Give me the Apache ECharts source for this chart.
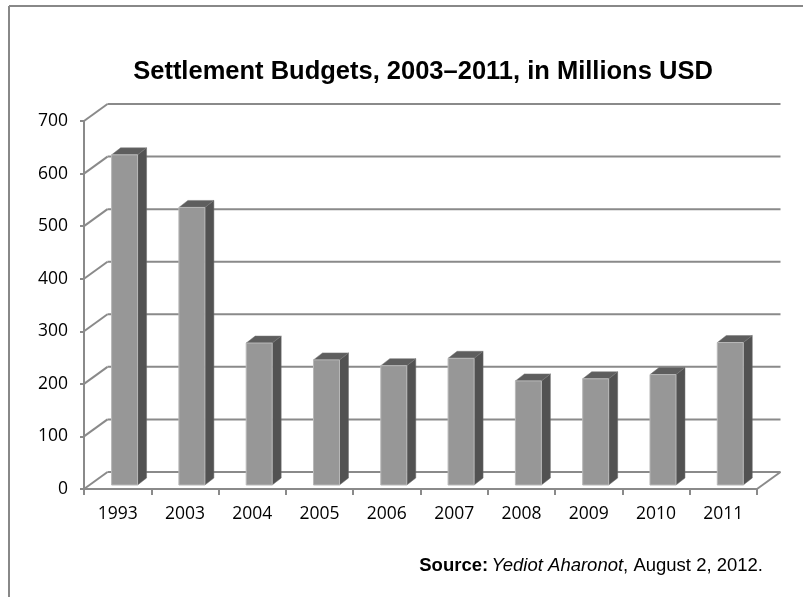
<!DOCTYPE html>
<html>
<head>
<meta charset="utf-8">
<script src="https://cdn.jsdelivr.net/npm/echarts@6/dist/echarts.min.js"></script>
<style>html,body{margin:0;padding:0;background:#fff;}#c{width:803px;height:597px;}</style>
</head>
<body>
<div id="c"></div>
<script>
const categories = ['1993','2003','2004','2005','2006','2007','2008','2009','2010','2011'];
const budgets = [628, 528, 270, 238, 227, 241, 198, 202, 210, 271];
const yTicks = [0, 100, 200, 300, 400, 500, 600, 700];
const titleText = 'Settlement Budgets, 2003\u20132011, in Millions USD';

const DEPTH_X = 23.5, DEPTH_Y = -17;
const LINE = '#8a8a8a';

const chart = echarts.init(document.getElementById('c'), null, {renderer: 'canvas'});

function wallItem(params, api) {
  const cs = params.coordSys;
  const left = cs.x, right = cs.x + cs.width;
  const v = api.value(0);
  const y = api.coord([categories[0], v])[1];
  const children = [
    {type: 'line', shape: {x1: left, y1: y, x2: left + DEPTH_X, y2: y + DEPTH_Y}, style: {stroke: LINE, lineWidth: 2}},
    {type: 'line', shape: {x1: left + DEPTH_X, y1: y + DEPTH_Y, x2: right + DEPTH_X, y2: y + DEPTH_Y}, style: {stroke: LINE, lineWidth: 2}}
  ];
  if (v === 0) {
    children.push({type: 'line', shape: {x1: right, y1: y, x2: right + DEPTH_X, y2: y + DEPTH_Y}, style: {stroke: LINE, lineWidth: 2}});
  }
  return {type: 'group', children};
}

function barItem(params, api) {
  const cat = api.value(0), val = api.value(1);
  const top = api.coord([cat, val]);
  const base = api.coord([cat, 0]);
  const band = api.size([1, 0])[0];
  const xl = top[0] - band * 0.09;
  const w = band * 0.386;
  const xr = xl + w;
  const yt = top[1] - 4, yb = base[1] - 4;
  const dx = 9, dy = -7;
  return {type: 'group', children: [
    {type: 'polygon', shape: {points: [[xr, yt], [xr + dx, yt + dy], [xr + dx, yb + dy], [xr, yb]]},
      style: {fill: '#525252', stroke: '#6a6a6a', lineWidth: 0.5}},
    {type: 'polygon', shape: {points: [[xl, yt], [xl + dx, yt + dy], [xr + dx, yt + dy], [xr, yt]]},
      style: {fill: '#5e5e5e', stroke: '#777', lineWidth: 0.5}},
    {type: 'rect', shape: {x: xl, y: yt, width: w, height: yb - yt},
      style: {fill: '#979797', stroke: '#b8b8b8', lineWidth: 1}}
  ]};
}

const option = {
  backgroundColor: '#fff',
  animation: false,
  title: {
    text: titleText,
    left: 418, top: 54, textAlign: 'center',
    textStyle: {fontFamily: 'Liberation Sans', fontWeight: 'bold', fontSize: 25.5, color: '#000'}
  },
  grid: {left: 84, right: 46, top: 121, bottom: 108},
  xAxis: {
    type: 'category', data: categories, boundaryGap: true,
    axisLine: {show: true, lineStyle: {color: LINE, width: 2}},
    axisTick: {show: true, length: 6, alignWithLabel: false, lineStyle: {color: LINE, width: 2}},
    axisLabel: {margin: 16, color: '#000', fontFamily: 'Open Sans', fontSize: 17.5},
    splitLine: {show: false}
  },
  yAxis: {
    type: 'value', min: 0, max: 700, interval: 100,
    axisLine: {show: true, lineStyle: {color: LINE, width: 2}},
    axisTick: {show: true, length: 4, lineStyle: {color: LINE, width: 2}},
    axisLabel: {margin: 16, color: '#000', fontFamily: 'Open Sans', fontSize: 17.5},
    splitLine: {show: false}
  },
  series: [
    {type: 'custom', name: 'walls', renderItem: wallItem, data: yTicks.map(v => [v]), encode: {y: 0}, z: 1, silent: true, clip: false},
    {type: 'custom', name: 'Budget', renderItem: barItem, data: categories.map((c, i) => [c, budgets[i]]), encode: {x: 0, y: 1}, z: 3, clip: false}
  ],
  graphic: [
    {type: 'line', shape: {x1: 9, y1: 6, x2: 803, y2: 6}, style: {stroke: '#888', lineWidth: 2}},
    {type: 'line', shape: {x1: 9, y1: 6, x2: 9, y2: 597}, style: {stroke: '#888', lineWidth: 2}},
    {type: 'text', right: 40, top: 556, style: {
      text: '{b|Source:} {i|Yediot Aharonot}{r|, August 2, 2012.}',
      rich: {
        b: {fontFamily: 'Liberation Sans', fontWeight: 'bold', fontSize: 18.5, fill: '#000'},
        i: {fontFamily: 'Liberation Sans', fontStyle: 'italic', fontSize: 18.5, fill: '#000'},
        r: {fontFamily: 'Liberation Sans', fontSize: 18.5, fill: '#000'}
      }
    }}
  ]
};
chart.setOption(option);
</script>
</body>
</html>
